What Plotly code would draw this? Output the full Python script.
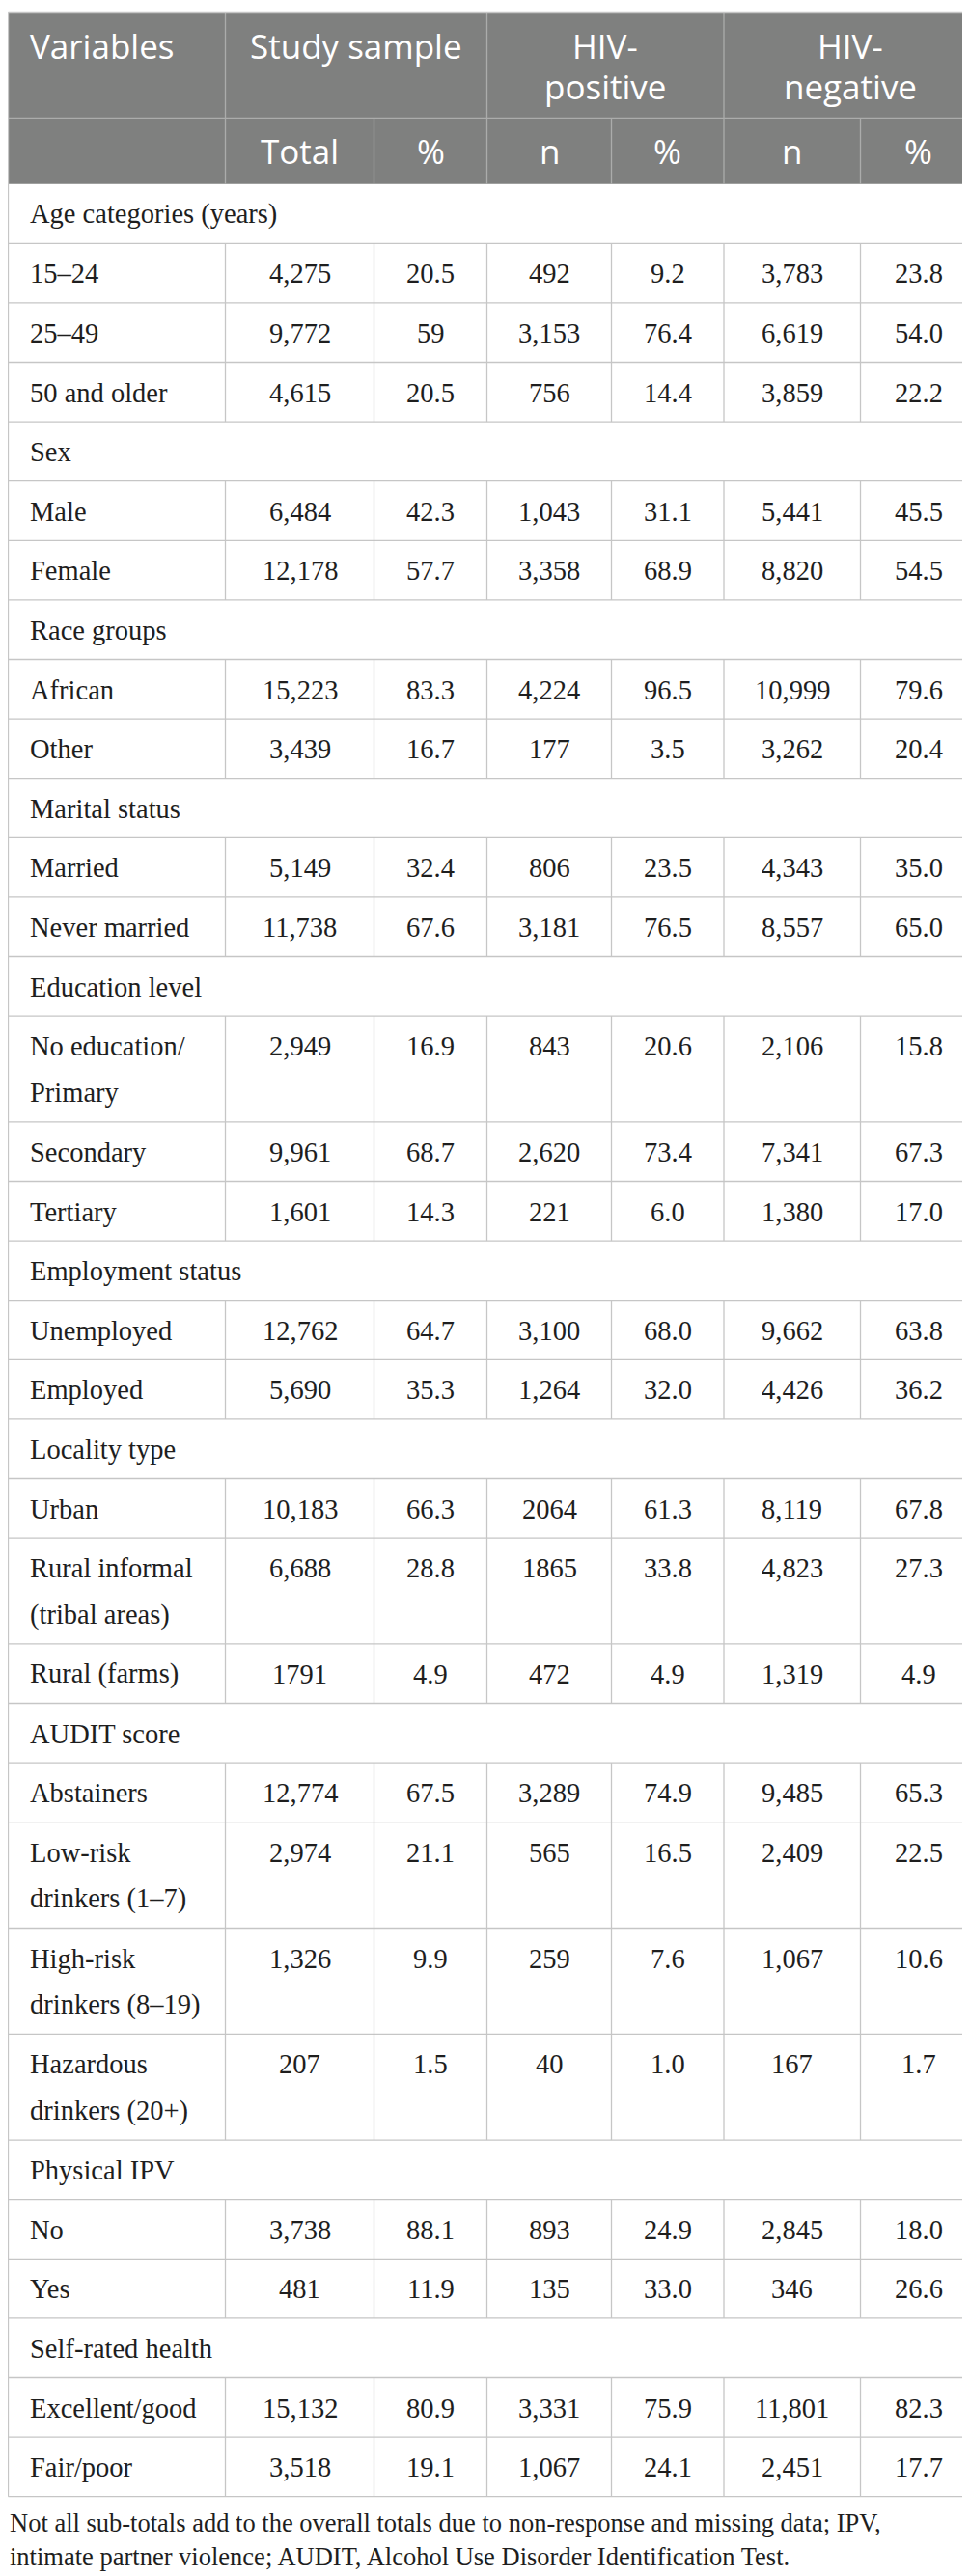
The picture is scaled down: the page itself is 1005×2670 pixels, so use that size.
import plotly.graph_objects as go

# ---- table content -------------------------------------------------------
groups = [
    "Age categories (years)", "Sex", "Race groups", "Marital status",
    "Education level", "Employment status", "Locality type",
    "AUDIT score", "Physical IPV", "Self-rated health",
]
group_sizes = [3, 2, 2, 2, 3, 2, 3, 4, 2, 2]

categories = [
    "15–24", "25–49", "50 and older",
    "Male", "Female",
    "African", "Other",
    "Married", "Never married",
    "No education/<br>Primary", "Secondary", "Tertiary",
    "Unemployed", "Employed",
    "Urban", "Rural informal<br>(tribal areas)", "Rural (farms)",
    "Abstainers", "Low-risk<br>drinkers (1–7)", "High-risk<br>drinkers (8–19)",
    "Hazardous<br>drinkers (20+)",
    "No", "Yes",
    "Excellent/good", "Fair/poor",
]

total_n = [
    "4,275", "9,772", "4,615", "6,484", "12,178", "15,223", "3,439",
    "5,149", "11,738", "2,949", "9,961", "1,601", "12,762", "5,690",
    "10,183", "6,688", "1791", "12,774", "2,974", "1,326", "207",
    "3,738", "481", "15,132", "3,518",
]
total_pct = [
    "20.5", "59", "20.5", "42.3", "57.7", "83.3", "16.7", "32.4", "67.6",
    "16.9", "68.7", "14.3", "64.7", "35.3", "66.3", "28.8", "4.9", "67.5",
    "21.1", "9.9", "1.5", "88.1", "11.9", "80.9", "19.1",
]
pos_n = [
    "492", "3,153", "756", "1,043", "3,358", "4,224", "177", "806", "3,181",
    "843", "2,620", "221", "3,100", "1,264", "2064", "1865", "472", "3,289",
    "565", "259", "40", "893", "135", "3,331", "1,067",
]
pos_pct = [
    "9.2", "76.4", "14.4", "31.1", "68.9", "96.5", "3.5", "23.5", "76.5",
    "20.6", "73.4", "6.0", "68.0", "32.0", "61.3", "33.8", "4.9", "74.9",
    "16.5", "7.6", "1.0", "24.9", "33.0", "75.9", "24.1",
]
neg_n = [
    "3,783", "6,619", "3,859", "5,441", "8,820", "10,999", "3,262",
    "4,343", "8,557", "2,106", "7,341", "1,380", "9,662", "4,426",
    "8,119", "4,823", "1,319", "9,485", "2,409", "1,067", "167",
    "2,845", "346", "11,801", "2,451",
]
neg_pct = [
    "23.8", "54.0", "22.2", "45.5", "54.5", "79.6", "20.4", "35.0", "65.0",
    "15.8", "67.3", "17.0", "63.8", "36.2", "67.8", "27.3", "4.9", "65.3",
    "22.5", "10.6", "1.7", "18.0", "26.6", "82.3", "17.7",
]

header_top = ["Variables", "Study sample", "HIV-<br>positive", "HIV-<br>negative"]
header_sub = ["", "Total", "%", "n", "%", "n", "%"]

footnote = [
    "Not all sub-totals add to the overall totals due to non-response and missing data; IPV,",
    "intimate partner violence; AUDIT, Alcohol Use Disorder Identification Test.",
]

# ---- geometry / style ----------------------------------------------------
W, H = 1005, 2670
col_edges = [0.5, 225.5, 379.5, 496.5, 625.5, 742, 883.5, 1004]
TOP, HEAD1, HEAD2 = 4.5, 114.3, 182.7
ROW_H, LINE_H = 61.6, 48.2
PAD_L = 20

HEAD_BG = "#7f807f"
HEAD_LINE = "#abacab"
BODY_LINE = "#c6c6c6"
TXT = "#1e1e1e"
SERIF = "Liberation Serif"
SANS = "Open Sans"

shapes = []
annotations = []


def hline(y, x0, x1, color):
    shapes.append(dict(type="line", xref="x", yref="y", x0=x0, x1=x1, y0=y, y1=y,
                       line=dict(color=color, width=1.3), layer="above"))


def vline(x, y0, y1, color):
    shapes.append(dict(type="line", xref="x", yref="y", x0=x, x1=x, y0=y0, y1=y1,
                       line=dict(color=color, width=1.3), layer="above"))


def text(x, y, s, size, color, family, anchor="center"):
    annotations.append(dict(x=x, y=y, xref="x", yref="y", text=s, showarrow=False,
                            xanchor=anchor, yanchor="middle",
                            font=dict(size=size, color=color, family=family)))


def centre(i, j):
    return (col_edges[i] + col_edges[j]) / 2


# header block
shapes.append(dict(type="rect", xref="x", yref="y", x0=col_edges[0], x1=col_edges[-1],
                   y0=TOP, y1=HEAD2, fillcolor=HEAD_BG, line=dict(width=0), layer="below"))
hline(HEAD1, col_edges[0], col_edges[-1], HEAD_LINE)
for i in (1, 3, 5):
    vline(col_edges[i], TOP, HEAD2, HEAD_LINE)
for i in (2, 4, 6):
    vline(col_edges[i], HEAD1, HEAD2, HEAD_LINE)

spans = [(0, 1), (1, 3), (3, 5), (5, 7)]
for (a, b), label in zip(spans, header_top):
    lines = label.split("<br>")
    for k, ln in enumerate(lines):
        y = TOP + 35 + k * 42
        if a == 0:
            text(col_edges[0] + PAD_L, y, ln, 35, "white", SANS, "left")
        else:
            text(centre(a, b), y, ln, 35, "white", SANS)
for i, label in enumerate(header_sub):
    if label:
        text(centre(i, i + 1), HEAD1 + 34.5, label, 35, "white", SANS)

# body rows
value_cols = list(zip(total_n, total_pct, pos_n, pos_pct, neg_n, neg_pct))
rows = []
k = 0
for g, size in zip(groups, group_sizes):
    rows.append((g, None))
    for _ in range(size):
        rows.append((categories[k], value_cols[k]))
        k += 1

y = HEAD2
for label, vals in rows:
    lines = label.split("<br>")
    h = ROW_H + (len(lines) - 1) * LINE_H
    first = y + 31.5
    for n, ln in enumerate(lines):
        text(col_edges[0] + PAD_L, first + n * LINE_H, ln, 28.5, TXT, SERIF, "left")
    if vals is not None:
        for i, v in enumerate(vals):
            text(centre(i + 1, i + 2), first, v, 28.5, TXT, SERIF)
            vline(col_edges[i + 1], y, y + h, BODY_LINE)
    y += h
    hline(y, col_edges[0], col_edges[-1], BODY_LINE)
bottom = y

# outer frame
hline(TOP, col_edges[0], col_edges[-1], BODY_LINE)
vline(col_edges[0], TOP, bottom, BODY_LINE)
vline(col_edges[-1], TOP, bottom, BODY_LINE)

# footnote
for n, ln in enumerate(footnote):
    text(0, bottom + 27.5 + n * 35, ln, 26.5, TXT, SERIF, "left")

fig = go.Figure()
fig.add_trace(go.Scatter(x=[0, W], y=[0, H], mode="markers",
                         marker=dict(opacity=0), hoverinfo="skip", showlegend=False))
fig.update_layout(
    width=W, height=H,
    margin=dict(l=0, r=0, t=0, b=0),
    plot_bgcolor="white", paper_bgcolor="white",
    xaxis=dict(range=[0, W], visible=False, fixedrange=True),
    yaxis=dict(range=[H, 0], visible=False, fixedrange=True),
    shapes=shapes, annotations=annotations,
    showlegend=False,
)

fig.write_html("out.html")
